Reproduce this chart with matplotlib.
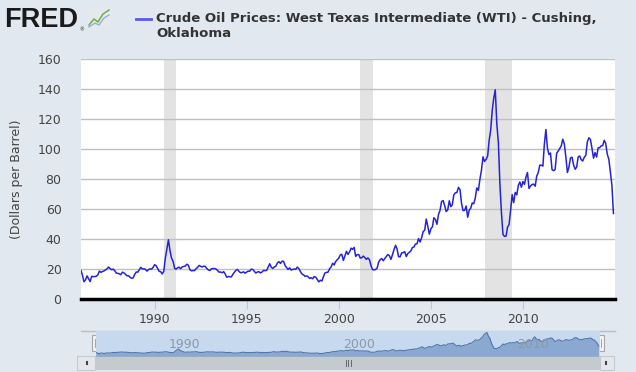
import matplotlib
matplotlib.use("Agg")
import matplotlib.pyplot as plt
import matplotlib.dates as mdates
from matplotlib.patches import Rectangle
import pandas as pd

# WTI crude oil price, monthly, Jan 1986 - Dec 2014 (dollars per barrel)
wti_1986_1995 = [
    19.0, 15.5, 11.5, 12.8, 15.4, 13.4, 11.6, 15.1, 14.9, 14.9, 15.2, 16.1,
    18.6, 17.8, 18.3, 18.7, 19.4, 20.1, 21.3, 20.3, 19.5, 19.9, 18.9, 17.3,
    17.1, 16.8, 16.2, 17.9, 17.4, 16.5, 15.5, 15.5, 14.5, 13.8, 14.1, 16.4,
    18.0, 17.9, 19.5, 21.1, 20.1, 20.1, 19.8, 18.6, 19.6, 20.1, 19.9, 21.1,
    22.9, 22.1, 20.4, 18.4, 18.2, 16.7, 18.5, 27.3, 33.5, 39.5, 32.3, 27.3,
    25.2, 20.5, 19.9, 20.8, 21.2, 20.2, 21.4, 21.7, 21.9, 23.2, 22.5, 19.5,
    18.8, 19.0, 18.9, 20.2, 21.0, 22.4, 21.8, 21.3, 21.9, 21.7, 20.3, 19.4,
    19.0, 20.1, 20.3, 20.3, 20.0, 19.1, 17.9, 18.0, 17.5, 18.2, 16.6, 14.5,
    15.0, 14.8, 14.7, 16.4, 17.9, 19.1, 19.7, 18.4, 17.5, 17.7, 18.1, 17.2,
    18.0, 18.6, 18.5, 19.9, 19.7, 18.5, 17.3, 18.0, 18.2, 17.4, 18.0, 19.0,
]
wti_1996_2005 = [
    18.9, 19.1, 21.3, 23.5, 21.2, 20.4, 21.3, 21.9, 24.0, 24.9, 23.7, 25.2,
    25.1, 22.2, 21.0, 19.7, 20.8, 19.3, 19.7, 20.0, 19.8, 21.3, 20.2, 18.3,
    16.7, 16.1, 15.1, 15.4, 14.9, 13.7, 14.2, 13.5, 15.0, 14.5, 13.0, 11.4,
    12.5, 12.0, 14.7, 17.3, 17.7, 17.9, 20.1, 21.3, 23.8, 22.7, 25.0, 26.1,
    27.3, 29.4, 29.8, 25.7, 28.8, 31.8, 29.7, 31.3, 33.9, 33.1, 34.4, 28.4,
    29.6, 29.6, 27.3, 27.5, 28.6, 27.6, 26.4, 27.4, 26.2, 22.2, 19.6, 19.4,
    19.7, 20.7, 24.5, 26.2, 27.0, 25.5, 27.0, 28.4, 29.7, 28.8, 26.4, 29.5,
    33.0, 35.8, 33.5, 28.2, 28.1, 30.7, 30.8, 31.6, 28.3, 30.3, 31.1, 32.1,
    34.3, 34.7, 36.7, 36.8, 40.3, 38.0, 40.8, 44.9, 45.9, 53.3, 48.5, 43.2,
    46.8, 48.2, 54.2, 53.0, 49.8, 56.4, 59.0, 65.0, 65.6, 62.3, 58.3, 59.4,
]
wti_2006_2014 = [
    65.5, 61.6, 62.7, 69.4, 70.8, 71.0, 74.4, 73.0, 63.8, 58.9, 59.1, 62.0,
    54.5, 59.3, 60.4, 64.0, 63.5, 67.5, 74.1, 72.4, 79.9, 85.8, 94.8, 91.7,
    93.0, 95.4, 105.5, 112.6, 125.4, 133.9, 139.5, 116.7, 104.1, 76.6, 57.3, 43.0,
    41.7, 42.0, 47.9, 49.7, 59.0, 69.6, 64.2, 71.1, 69.4, 75.7, 78.0, 74.5,
    78.3, 76.4, 81.2, 84.3, 73.7, 75.3, 76.3, 76.6, 75.2, 81.9, 84.3, 89.2,
    89.2, 88.6, 102.9, 113.0, 100.9, 96.3, 97.3, 86.3, 85.5, 86.3, 97.2, 98.6,
    100.3, 102.2, 106.5, 103.3, 94.7, 84.3, 87.9, 94.1, 94.5, 89.5, 86.5, 87.9,
    94.8, 95.3, 92.9, 92.0, 94.5, 95.8, 104.7, 107.5, 106.3, 100.5, 93.9, 97.6,
    94.6, 100.8, 100.8, 102.1, 102.2, 105.8, 103.6, 96.5, 93.2, 84.4, 75.8, 57.0,
]
prices = wti_1986_1995 + wti_1996_2005 + wti_2006_2014
dates = pd.date_range("1986-01-01", periods=len(prices), freq="MS")

# NBER recessions in the window
recessions = [("1990-07-01", "1991-03-01"), ("2001-03-01", "2001-11-01"),
              ("2007-12-01", "2009-06-01")]

y_ticks = [0, 20, 40, 60, 80, 100, 120, 140, 160]
x_tick_years = [1990, 1995, 2000, 2005, 2010]
nav_label_years = [1990, 2000, 2010]

title = "Crude Oil Prices: West Texas Intermediate (WTI) - Cushing,\nOklahoma"
y_label = "(Dollars per Barrel)"

BG = "#e1e8ef"
LINE = "#2424d4"
W, H = 636, 372

fig = plt.figure(figsize=(W / 100, H / 100), dpi=100, facecolor=BG)

def px_axes(x0, y0, x1, y1, **kw):
    # axes from pixel box (top-left origin)
    return fig.add_axes([x0 / W, 1 - y1 / H, (x1 - x0) / W, (y1 - y0) / H], **kw)

# background layer in pixel coordinates
bg = px_axes(0, 0, W, H)
bg.set_xlim(0, W)
bg.set_ylim(H, 0)
bg.axis("off")

# FRED logo
bg.text(4, 20, "FRED", fontsize=19.5, fontweight="heavy", color="#1a1a1a",
        family="Liberation Sans", va="center", ha="left")
bg.text(79, 30, "®", fontsize=3.5, color="#1a1a1a", va="center")
bg.add_patch(Rectangle((88, 8), 22, 21, facecolor="#e6e9ec", edgecolor="none"))
bg.plot([89, 94, 98, 103, 109], [25, 19, 22, 14, 10], color="#6fae4a", lw=1.1)
bg.plot([89, 95, 99, 104, 109], [27, 23, 25, 18, 15], color="#8db5d8", lw=1.0)

# legend / title
bg.plot([136, 151], [19, 19], color="#5a5ae0", lw=2)
bg.text(156, 26, title, fontsize=9.5, fontweight="bold", color="#333333",
        va="center", ha="left", linespacing=1.2)

bg.text(17, 179, y_label, rotation=90, fontsize=9, color="#444444",
        va="center", ha="center")

# navigator outline and scrollbar
bg.plot([81, 615], [331, 331], color="#b8bec4", lw=1)
bg.add_patch(Rectangle((77, 356), 537, 14, facecolor="#c5cacf", edgecolor="none"))
bg.add_patch(Rectangle((77, 356), 18, 14, facecolor="#e4e8ec", edgecolor="#c5cacf", lw=0.8))
bg.add_patch(Rectangle((600, 356), 14, 14, facecolor="#e4e8ec", edgecolor="#c5cacf", lw=0.8))
bg.plot([87, 87], [362, 364], color="#444444", lw=1.5)
bg.plot([606, 606], [362, 364], color="#444444", lw=1.5)
for gx in [345.5, 348, 350.5]:
    bg.plot([gx, gx], [360, 366], color="#666666", lw=0.7)

# main chart
ax = px_axes(81, 59, 615, 299)
ax.set_facecolor("white")
for start, end in recessions:
    ax.axvspan(pd.Timestamp(start), pd.Timestamp(end), color="#e3e3e3", lw=0, zorder=0)
ax.plot(dates, prices, color=LINE, lw=1.1, zorder=3)
ax.set_xlim(pd.Timestamp("1986-01-01"), pd.Timestamp("2015-01-01"))
ax.set_ylim(0, 160)
ax.set_yticks(y_ticks)
ax.set_xticks([pd.Timestamp(f"{y}-01-01") for y in x_tick_years])
ax.xaxis.set_major_formatter(mdates.DateFormatter("%Y"))
ax.yaxis.grid(True, color="#c0c0c0", lw=1, zorder=1)
ax.set_axisbelow(True)
for side in ["top", "left", "right"]:
    ax.spines[side].set_visible(False)
ax.spines["bottom"].set_color("black")
ax.spines["bottom"].set_linewidth(2.5)
ax.spines["bottom"].set_zorder(4)
ax.tick_params(axis="y", length=0, pad=14, labelsize=9, labelcolor="#444444")
ax.tick_params(axis="x", length=7, width=0.8, color="#c0c8d0", pad=3,
               labelsize=9, labelcolor="#444444")

# navigator
nav = px_axes(95.7, 331, 600, 356)
nav.set_facecolor("#c6d9ee")
nav.fill_between(dates, prices, -5, color="#8aa8d0", lw=0)
nav.plot(dates, prices, color="#4f78aa", lw=0.8)
nav.set_xlim(pd.Timestamp("1986-01-01"), pd.Timestamp("2015-01-01"))
nav.set_ylim(-3, 148)
nav.set_xticks([])
nav.set_yticks([])
for s in nav.spines.values():
    s.set_visible(False)
for yr in nav_label_years:
    nav.text(pd.Timestamp(f"{yr}-01-01") + pd.Timedelta(days=80), 0.45, str(yr),
             transform=nav.get_xaxis_transform(), fontsize=9, color="#8c98a6",
             va="center", ha="left", zorder=5)

# navigator handles
for hx in [95.7, 600]:
    bg.add_patch(Rectangle((hx - 4, 335), 8, 16, facecolor="#f2f2f2",
                           edgecolor="#a8a8a8", lw=0.8, zorder=5))
    bg.plot([hx - 1, hx - 1], [339, 347], color="#999999", lw=0.6, zorder=6)
    bg.plot([hx + 1, hx + 1], [339, 347], color="#999999", lw=0.6, zorder=6)
bg.set_zorder(0)
ax.set_zorder(1)
nav.set_zorder(1)

fig.savefig("out.png", dpi=100, facecolor=BG)
